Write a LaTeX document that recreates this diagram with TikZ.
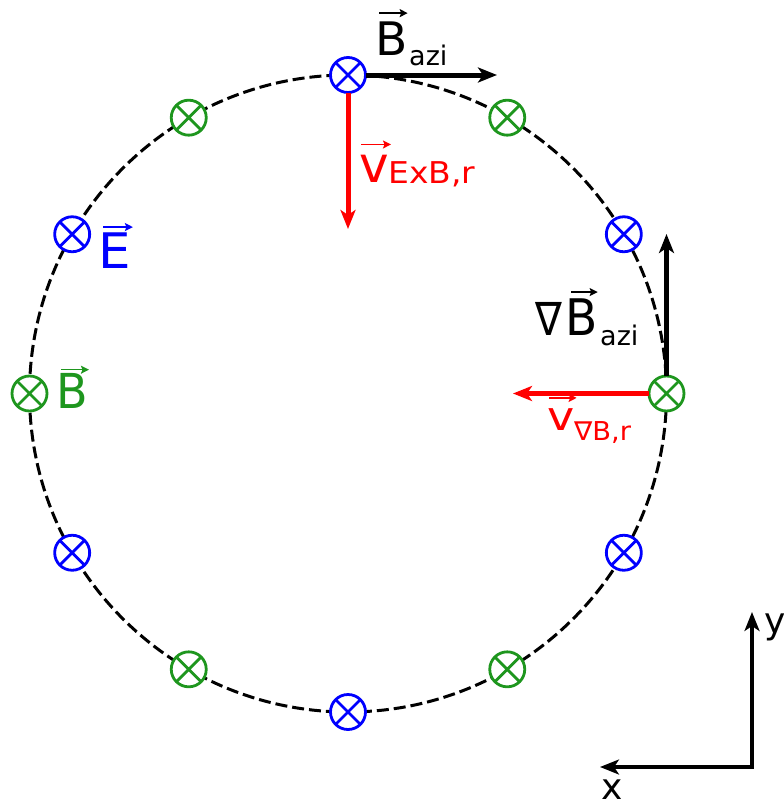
\documentclass[tikz,border=0pt]{standalone}
\usepackage{fontspec}
\setmainfont{DejaVu Sans}
\usepackage{graphicx}
\usetikzlibrary{arrows.meta,calc}
\definecolor{mgreen}{RGB}{30,150,30}
\definecolor{mblue}{RGB}{0,0,255}
\definecolor{mred}{RGB}{255,0,0}
\begin{document}
\begin{tikzpicture}[x=1pt,y=-1pt,
  mk/.style={circle,draw=#1,line width=2.8pt,fill=white,minimum size=35pt,inner sep=0pt,outer sep=0pt},
  cross/.style={line width=2.8pt,#1},
  arr/.style={line width=5pt,-{Stealth[length=19pt,width=15pt,inset=5pt]}},
  axarr/.style={line width=3.2pt,line join=miter,{Stealth[length=19pt,width=15pt,inset=5pt]}-{Stealth[length=19pt,width=15pt,inset=5pt]}},
  lab/.style={inner sep=0pt,anchor=base west},
  vec/.style={line width=1.6pt,-{Stealth[length=8pt,width=8pt,inset=1.5pt]}}]
\useasboundingbox (0,0) rectangle (784,809);
\coordinate (c) at (348,393.5);
\draw[line width=3pt,dash pattern=on 12pt off 5pt] (c) circle[radius=318.5pt];
\foreach \a in {0,60,...,300}{
  \node[mk=mgreen] (m\a) at ($(c)+(-\a:318.5)$) {};
  \draw[cross=mgreen] (m\a.45) -- (m\a.225) (m\a.135) -- (m\a.315);
}
\foreach \a in {30,90,...,330}{
  \node[mk=mblue] (m\a) at ($(c)+(-\a:318.5)$) {};
  \draw[cross=mblue] (m\a.45) -- (m\a.225) (m\a.135) -- (m\a.315);
}
% arrows
\coordinate (baz) at (497,75);
\coordinate (vexb) at (348,229);
\coordinate (gb) at (666.5,234);
\coordinate (vgb) at (513,393.5);
\draw[arr] (m90.east) -- (baz);
\draw[arr,mred] (m90.south) -- (vexb);
\draw[arr] (m0.north) -- (gb);
\draw[arr,mred] (m0.west) -- (vgb);
% axes
\coordinate (o) at (752,767);
\coordinate (ax) at (600,767);
\coordinate (ay) at (752,612);
\draw[axarr] (ax) -- (o) -- (ay);
% B_azi
\node[lab,font=\fontsize{42}{42}\selectfont] (lbazB) at (375,55) {\scalebox{1.12}[1.1]{B}};
\node[lab,font=\fontsize{27}{27}\selectfont] (lbazS) at (409,65) {azi};
\draw[vec] ([xshift=4pt,yshift=8pt]lbazB.north west) -- ([xshift=0pt,yshift=8pt]lbazB.north east);
% v_ExB,r
\node[lab,mred,font=\fontsize{50}{50}\selectfont] (lvexbV) at (359,182) {v};
\node[lab,mred,font=\fontsize{30}{30}\selectfont] (lvexbS) at (388,183) {\scalebox{1.1}[1]{ExB,r}};
\draw[vec,mred] ([xshift=2pt,yshift=10pt]lvexbV.north west) -- ([xshift=2pt,yshift=10pt]lvexbV.north east);
% E
\node[lab,mblue,font=\fontsize{49}{49}\selectfont] (lE) at (98,268) {\scalebox{1.05}[1]{E}};
\draw[vec,mblue] ([xshift=5pt,yshift=5pt]lE.north west) -- ([xshift=2pt,yshift=5pt]lE.north east);
% B
\node[lab,mgreen,font=\fontsize{43}{43}\selectfont] (lB) at (56,408) {\scalebox{1.07}[1.12]{B}};
\draw[vec,mgreen] ([xshift=5pt,yshift=3pt]lB.north west) -- ([xshift=1pt,yshift=3pt]lB.north east);
% nabla B_azi
\node[lab,font=\fontsize{40}{40}\selectfont] (lgbN) at (535,335) {\scalebox{1}[1.15]{∇}};
\node[lab,font=\fontsize{42}{42}\selectfont] (lgbB) at (565,335) {\scalebox{1.12}[1.2]{B}};
\node[lab,font=\fontsize{27}{27}\selectfont] (lgbS) at (600,345) {azi};
\draw[vec] ([xshift=6pt,yshift=6pt]lgbB.north west) -- ([xshift=0pt,yshift=6pt]lgbB.north east);
% v_nabla B,r
\node[lab,mred,font=\fontsize{40}{40}\selectfont] (lvgbV) at (547,430) {\scalebox{1.15}[1]{v}};
\node[lab,mred,font=\fontsize{26}{26}\selectfont] (lvgbS) at (574,440) {\scalebox{1.05}[1]{∇B,r}};
\draw[vec,mred] ([xshift=2pt,yshift=10pt]lvgbV.north west) -- ([xshift=2pt,yshift=10pt]lvgbV.north east);
% axis labels
\node[lab,font=\fontsize{36}{36}\selectfont] (ly) at (764,633) {y};
\node[lab,font=\fontsize{36}{36}\selectfont] (lx) at (601,799) {x};
\end{tikzpicture}
\end{document}
